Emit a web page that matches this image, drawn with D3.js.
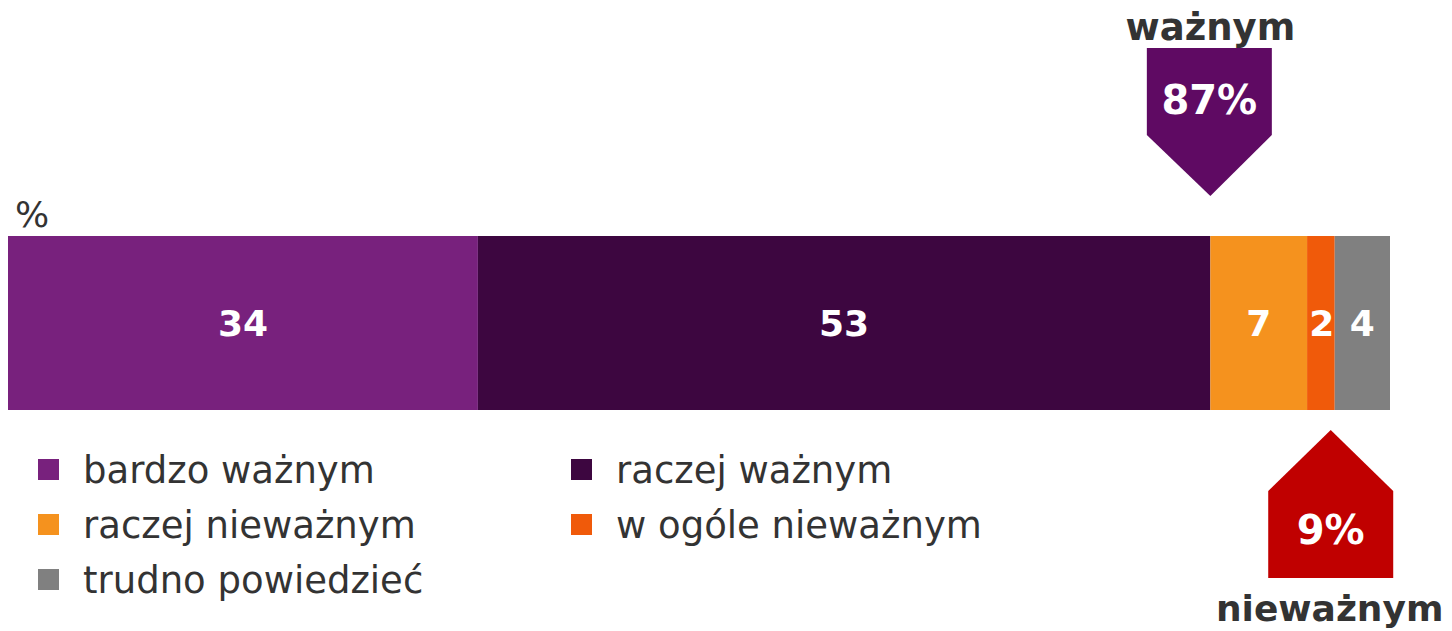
<!DOCTYPE html>
<html>
<head>
<meta charset="utf-8">
<script src="https://cdn.jsdelivr.net/npm/d3@7"></script>
<style>
  html, body { margin: 0; padding: 0; background: #fff; }
  svg { display: block; font-family: "DejaVu Sans", Verdana, sans-serif; }
</style>
</head>
<body>
<svg id="chart" width="1452" height="631"></svg>
<script>
  const categories = ["bardzo ważnym", "raczej ważnym", "raczej nieważnym", "w ogóle nieważnym", "trudno powiedzieć"];
  const values = [34, 53, 7, 2, 4];
  const colors = ["#78217d", "#3d0640", "#f5921e", "#f05a0a", "#808080"];
  // summary groups: indices of the categories they add up
  const groups = [
    { label: "ważnym", members: [0, 1], color: "#5f0a63", dir: "down" },
    { label: "nieważnym", members: [2, 3], color: "#c00000", dir: "up" },
  ];

  const svg = d3.select("#chart");
  const barTop = 236, barH = 174;

  let acc = 0;
  const segs = values.map((v, i) => {
    const s = { cat: categories[i], v, x0: acc, x1: acc + v, color: colors[i] };
    acc += v;
    return s;
  });

  const x = d3.scaleLinear().domain([0, d3.sum(values)]).range([8, 1390]);

  svg.append("text").attr("x", 15).attr("y", 227).attr("font-size", 36).attr("fill", "#333").text("%");

  svg.append("g").selectAll("rect").data(segs).join("rect")
    .attr("x", (d) => x(d.x0)).attr("y", barTop)
    .attr("width", (d) => x(d.x1) - x(d.x0)).attr("height", barH)
    .attr("fill", (d) => d.color);

  svg.append("g").selectAll("text").data(segs).join("text")
    .attr("x", (d) => (x(d.x0) + x(d.x1)) / 2 + (d.v === 2 ? 1 : 0))
    .attr("y", barTop + barH / 2 + 13)
    .attr("text-anchor", "middle").attr("font-size", 36).attr("font-weight", "bold").attr("fill", "#fff")
    .text((d) => d.v);

  // legend
  const leg = svg.append("g").selectAll("g").data(categories).join("g")
    .attr("transform", (d, i) => `translate(${i % 2 === 0 ? 38 : 571},${459 + Math.floor(i / 2) * 55})`);
  leg.append("rect").attr("width", 21).attr("height", 21).attr("fill", (d, i) => colors[i]);
  leg.append("text").attr("x", 45).attr("y", 24).attr("font-size", 37).attr("fill", "#333").text((d) => d);

  // summary arrows
  const aw = 125, rectH = 87, triH = 61;
  groups.forEach((g) => {
    const total = d3.sum(g.members, (i) => values[i]);
    const end = segs[g.members[g.members.length - 1]].x1;
    const tip = x(end);
    if (g.dir === "down") {
      const top = 48;
      const cx = tip;
      const pts = [[cx - aw / 2 - 1, top], [cx + aw / 2 - 1, top], [cx + aw / 2 - 1, top + rectH], [cx, top + rectH + triH], [cx - aw / 2 - 1, top + rectH]];
      svg.append("polygon").attr("points", pts.join(" ")).attr("fill", g.color);
      svg.append("text").attr("x", cx - 1).attr("y", 114).attr("text-anchor", "middle").attr("font-size", 40)
        .attr("font-weight", "bold").attr("fill", "#fff").text(total + "%");
      svg.append("text").attr("x", cx).attr("y", 40).attr("text-anchor", "middle").attr("font-size", 37)
        .attr("font-weight", "bold").attr("fill", "#333").text(g.label);
    } else {
      const cx = tip - 4;
      const tipY = 430;
      const pts = [[cx, tipY], [cx + aw / 2, tipY + triH], [cx + aw / 2, tipY + triH + rectH], [cx - aw / 2, tipY + triH + rectH], [cx - aw / 2, tipY + triH]];
      svg.append("polygon").attr("points", pts.join(" ")).attr("fill", g.color);
      svg.append("text").attr("x", cx).attr("y", 544).attr("text-anchor", "middle").attr("font-size", 40)
        .attr("font-weight", "bold").attr("fill", "#fff").text(total + "%");
      svg.append("text").attr("x", cx - 1).attr("y", 621).attr("text-anchor", "middle").attr("font-size", 36)
        .attr("font-weight", "bold").attr("fill", "#333").text(g.label);
    }
  });
</script>
</body>
</html>
